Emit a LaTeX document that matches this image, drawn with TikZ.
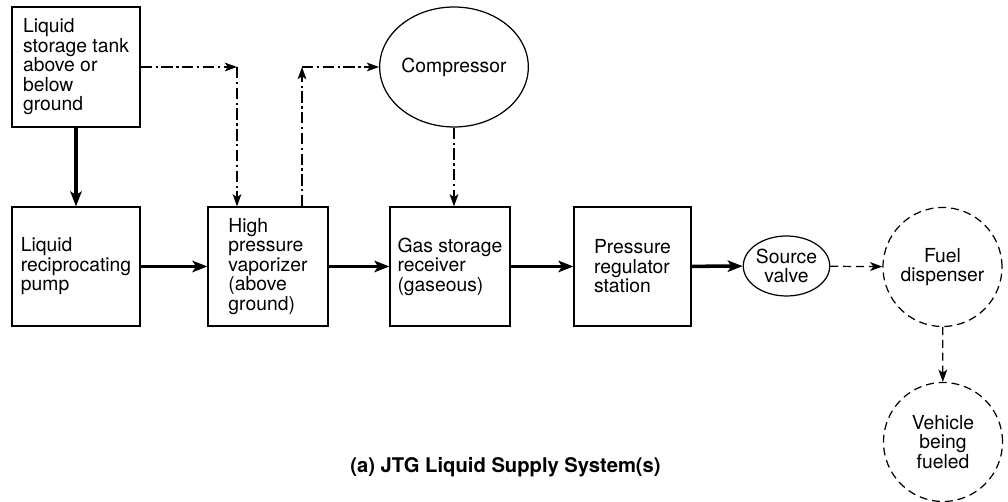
\documentclass[tikz,border=0pt]{standalone}
\usepackage{fontspec}
\setmainfont{TeX Gyre Heros}
\usepackage{tikz}
\usetikzlibrary{arrows.meta, calc, shapes.geometric}

\begin{document}
\begin{tikzpicture}[x=0.02cm, y=-0.02cm,
    font=\fontsize{11}{11.1}\selectfont,
    unit/.style={draw, line width=0.7pt, align=left, inner sep=0pt},
    flow/.style={line width=2pt, -{Stealth[length=8.5pt, width=6.5pt, inset=2pt]}},
    gasline/.style={line width=0.7pt, dash pattern=on 6.5pt off 2pt on 1.3pt off 2pt,
      -{Stealth[length=7pt, width=5pt, inset=1.8pt]}},
    fuelline/.style={line width=0.7pt, dash pattern=on 4.5pt off 2.8pt,
      -{Stealth[length=7pt, width=5pt, inset=1.8pt]}}]
  \useasboundingbox (0,0) rectangle (1008,502);

  % Process boxes
  \node[unit, minimum width=2.56cm, minimum height=2.4cm] (tank) at (76,67)
    {Liquid\\storage tank\\above or\\below\\ground};
  \node[unit, minimum width=2.56cm, minimum height=2.38cm] (pump) at (76,266.5)
    {Liquid\\reciprocating\\pump};
  \node[unit, minimum width=2.4cm, minimum height=2.38cm] (vap) at (268,266.5)
    {High\\pressure\\vaporizer\\(above\\ground)};
  \node[unit, minimum width=2.4cm, minimum height=2.38cm] (gas) at (450,266.5)
    {Gas storage\\receiver\\(gaseous)};
  \node[unit, minimum width=2.34cm, minimum height=2.38cm] (reg) at (632.5,266.5)
    {Pressure\\regulator\\station};

  % Ellipses and circles
  \node[unit, ellipse, align=center, minimum width=2.96cm, minimum height=2.4cm] (comp) at (454,67)
    {Compressor};
  \node[unit, ellipse, align=center, minimum width=1.7cm, minimum height=1.2cm] (valve) at (786.5,266)
    {Source\\valve};
  \node[unit, circle, dash pattern=on 4.5pt off 2.8pt, align=center, minimum size=2.38cm] (disp) at (942.5,267)
    {Fuel\\dispenser};
  \node[unit, circle, dash pattern=on 4.5pt off 2.8pt, align=center, minimum size=2.38cm] (veh) at (943,442)
    {Vehicle\\being\\fueled};

  % Liquid line
  \draw[flow] (tank) -- (pump);
  \draw[flow] (pump) -- (vap);
  \draw[flow] (vap) -- (gas);
  \draw[flow] (gas) -- (reg);
  \draw[flow] (reg) -- (valve);

  % Boil-off gas lines
  \coordinate (c1) at (237,67);
  \coordinate (c2) at (302,67);
  \draw[gasline] (tank.east) -- (c1);
  \draw[gasline] (c1) -- (c1 |- vap.north);
  \draw[gasline] (c2 |- vap.north) -- (c2);
  \draw[gasline] (c2) -- (comp.west);
  \draw[gasline] (comp.south) -- (comp.south |- gas.north);

  % Fueling
  \draw[fuelline] (valve) -- (disp);
  \draw[fuelline] (disp) -- (veh);

  \node[font=\fontsize{11.5}{11.6}\selectfont\bfseries, anchor=base west, inner sep=0pt] (title) at (350,473)
    {(a) JTG Liquid Supply System(s)};
\end{tikzpicture}
\end{document}
